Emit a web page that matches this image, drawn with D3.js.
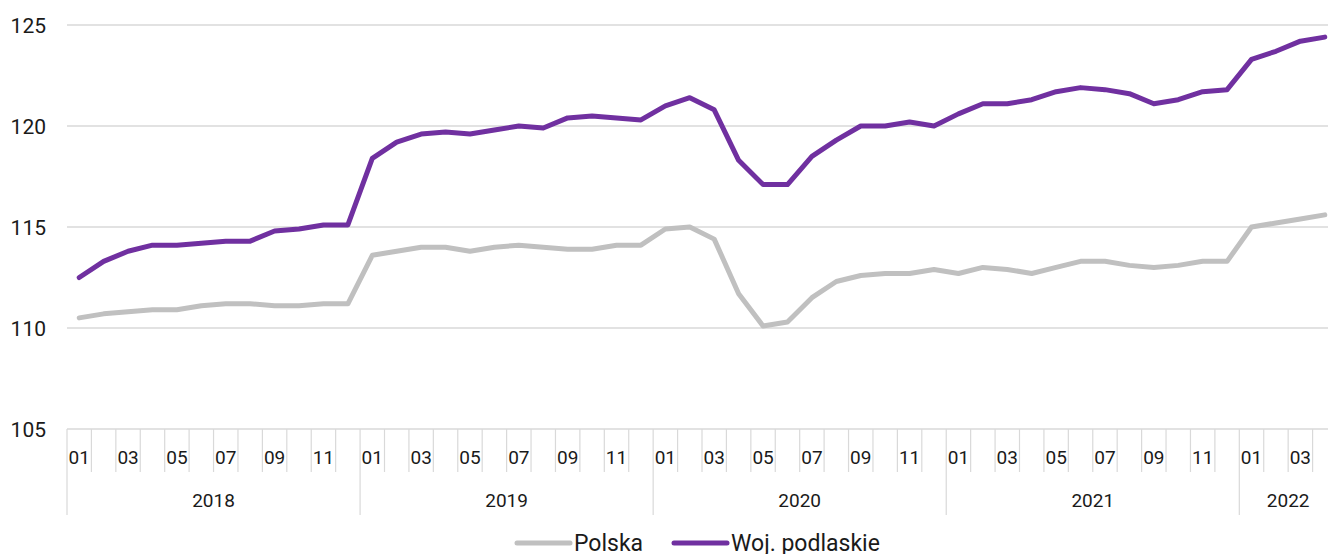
<!DOCTYPE html>
<html>
<head>
<meta charset="utf-8">
<script src="https://cdn.jsdelivr.net/npm/d3@7"></script>
<style>
  body { margin: 0; background: #fff; }
  text { font-family: Roboto, "Noto Sans", sans-serif; fill: #1a1a1a; }
</style>
</head>
<body>
<svg id="chart"></svg>
<script>
// months 2018-01 .. 2022-04
var years = [2018, 2019, 2020, 2021, 2022];
var monthsPerYear = [12, 12, 12, 12, 4];

var polska = [
  110.5, 110.7, 110.8, 110.9, 110.9, 111.1, 111.2, 111.2, 111.1, 111.1, 111.2, 111.2,
  113.6, 113.8, 114.0, 114.0, 113.8, 114.0, 114.1, 114.0, 113.9, 113.9, 114.1, 114.1,
  114.9, 115.0, 114.4, 111.7, 110.1, 110.3, 111.5, 112.3, 112.6, 112.7, 112.7, 112.9,
  112.7, 113.0, 112.9, 112.7, 113.0, 113.3, 113.3, 113.1, 113.0, 113.1, 113.3, 113.3,
  115.0, 115.2, 115.4, 115.6
];
var podlaskie = [
  112.5, 113.3, 113.8, 114.1, 114.1, 114.2, 114.3, 114.3, 114.8, 114.9, 115.1, 115.1,
  118.4, 119.2, 119.6, 119.7, 119.6, 119.8, 120.0, 119.9, 120.4, 120.5, 120.4, 120.3,
  121.0, 121.4, 120.8, 118.3, 117.1, 117.1, 118.5, 119.3, 120.0, 120.0, 120.2, 120.0,
  120.6, 121.1, 121.1, 121.3, 121.7, 121.9, 121.8, 121.6, 121.1, 121.3, 121.7, 121.8,
  123.3, 123.7, 124.2, 124.4
];
var yTicks = [105, 110, 115, 120, 125];

var seriesNames = ['Polska', 'Woj. podlaskie'];
var seriesColors = ['#c0c0c0', '#7030a0'];

var svgWidth = 1328, svgHeight = 554;
var plotLeft = 67, plotRight = 1337, plotTop = 25, plotBottom = 429;

// build category keys
var cats = [];
years.forEach(function(yr, yi) {
  for (var m = 1; m <= monthsPerYear[yi]; m++) {
    cats.push({ key: yr + '-' + (m < 10 ? '0' + m : m), year: yr, month: m });
  }
});

var svg = d3.select('#chart').attr('width', svgWidth).attr('height', svgHeight);

var x = d3.scaleBand().domain(cats.map(function(d){ return d.key; }))
  .range([plotLeft, plotRight]).padding(0);
var y = d3.scaleLinear().domain([105, 125]).range([plotBottom, plotTop]);

// gridlines
svg.append('g').selectAll('line').data(yTicks).enter().append('line')
  .attr('x1', plotLeft).attr('x2', plotRight)
  .attr('y1', function(d){ return y(d); }).attr('y2', function(d){ return y(d); })
  .attr('stroke', '#d9d9d9').attr('stroke-width', 1.5);

// y labels
svg.append('g').selectAll('text').data(yTicks).enter().append('text')
  .attr('x', 46).attr('y', function(d){ return y(d); })
  .attr('dy', '0.36em')
  .attr('text-anchor', 'end')
  .style('font-size', '21px')
  .text(function(d){ return d; });

// x axis: month ticks at band edges
var bw = x.bandwidth();
var xAxis = svg.append('g');
xAxis.selectAll('line.m').data(cats).enter().append('line')
  .attr('class', 'm')
  .attr('x1', function(d){ return x(d.key); }).attr('x2', function(d){ return x(d.key); })
  .attr('y1', plotBottom).attr('y2', function(d){ return d.month === 1 ? 515 : 472; })
  .attr('stroke', '#d9d9d9').attr('stroke-width', 1.2);

xAxis.selectAll('text.m').data(cats.filter(function(d){ return d.month % 2 === 1; }))
  .enter().append('text')
  .attr('class', 'm')
  .attr('x', function(d){ return x(d.key) + bw / 2; })
  .attr('y', 457).attr('dy', '0.36em')
  .attr('text-anchor', 'middle')
  .style('font-size', '19px')
  .text(function(d){ return d.month < 10 ? '0' + d.month : '' + d.month; });

xAxis.selectAll('text.y').data(years).enter().append('text')
  .attr('class', 'y')
  .attr('x', function(d, i){
    var first = x(d + '-01');
    return first + monthsPerYear[i] * bw / 2;
  })
  .attr('y', 500).attr('dy', '0.36em')
  .attr('text-anchor', 'middle')
  .style('font-size', '19px')
  .text(function(d){ return d; });

// lines
var line = d3.line()
  .x(function(d, i){ return x(cats[i].key) + bw / 2; })
  .y(function(d){ return y(d); });

[polska, podlaskie].forEach(function(s, si) {
  svg.append('path').datum(s)
    .attr('d', line)
    .attr('fill', 'none')
    .attr('stroke', seriesColors[si])
    .attr('stroke-width', 5)
    .attr('stroke-linejoin', 'round')
    .attr('stroke-linecap', 'round');
});

// legend
var legendX = [517, 674];
var leg = svg.append('g').selectAll('g').data(seriesNames).enter().append('g')
  .attr('transform', function(d, i){ return 'translate(' + legendX[i] + ',543)'; });
leg.append('line')
  .attr('x1', 0).attr('x2', 53).attr('y1', 0).attr('y2', 0)
  .attr('stroke', function(d, i){ return seriesColors[i]; })
  .attr('stroke-width', 5).attr('stroke-linecap', 'round');
leg.append('text')
  .attr('x', 57).attr('y', 0).attr('dy', '0.34em')
  .style('font-size', '23px')
  .text(function(d){ return d; });
</script>
</body>
</html>
